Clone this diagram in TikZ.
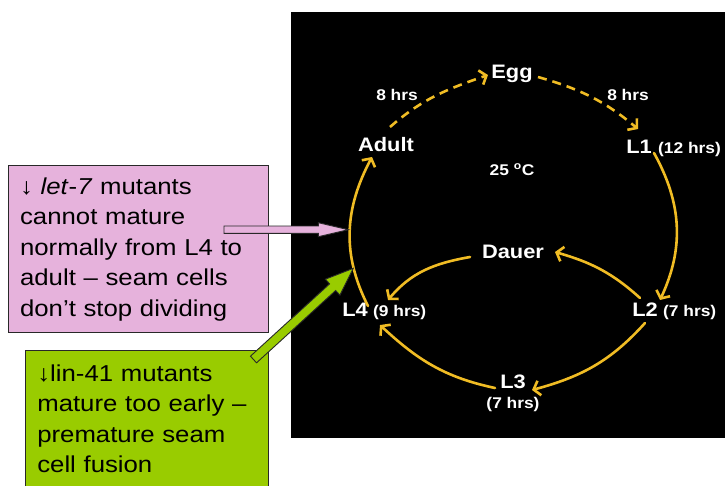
\documentclass[tikz,border=0pt]{standalone}
\usepackage{fontspec}
\setmainfont{Liberation Sans}[FakeStretch=1.12]
\usetikzlibrary{arrows.meta,calc}
\definecolor{cycyellow}{RGB}{240,188,36}
\definecolor{pinkfill}{RGB}{230,178,220}
\definecolor{greenfill}{RGB}{153,204,0}
\definecolor{edgegray}{RGB}{40,40,40}
% block arrow: #1 tail, #2 tip, #3 shaft half width, #4 head half width, #5 head length, #6 fill
\newcommand\calloutarrow[6]{%
  \coordinate (#1-hb) at ($(#2)!#5!(#1)$);
  \filldraw[fill=#6,draw=edgegray,line width=0.9pt,line join=miter]
    ($(#1)!#3!90:(#2)$) -- ($(#1-hb)!#3!90:(#2)$) -- ($(#1-hb)!#4!90:(#2)$) --
    (#2) -- ($(#1-hb)!#4!-90:(#2)$) -- ($(#1-hb)!#3!-90:(#2)$) --
    ($(#1)!#3!-90:(#2)$) -- cycle;
}
\begin{document}
\begin{tikzpicture}[x=1pt,y=1pt,
  stage/.style={text=white,font=\fontsize{19.5}{22}\selectfont\bfseries,inner sep=0pt,anchor=base},
  dur/.style={text=white,font=\fontsize{15.5}{18}\selectfont\bfseries,inner sep=0pt,anchor=base},
  cyc/.style={draw=cycyellow,line width=2.6pt,line cap=round,-{Straight Barb[length=6pt,width=15pt]}},
  dashcyc/.style={cyc,line cap=butt,dash pattern=on 9pt off 6pt},
  notebox/.style={draw=edgegray,line width=1.2pt,anchor=north west,inner ysep=0pt,align=left,
    text=black,font=\fontsize{23}{30.5}\selectfont},
]
\useasboundingbox (0,0) rectangle (725,-485);
\fill[black] (291,-12) rectangle (725,-438);

% stage labels
\node[stage] (egg) at (512,-78) {Egg};
\node[stage] (adult) at (386,-151.5) {Adult};
\node[stage] (l1) at (639,-153) {L1};
\node[dur,anchor=base west] (l1t) at (658,-153) {(12 hrs)};
\node[dur] (eighta) at (397,-100) {8 hrs};
\node[dur] (eightb) at (628,-100) {8 hrs};
\node[dur] (temp) at (512,-175) {25 \textsuperscript{o}C};
\node[stage] (dauer) at (513,-258) {Dauer};
\node[stage] (l4) at (355,-316.5) {L4};
\node[dur,anchor=base west] (l4t) at (373,-316.5) {(9 hrs)};
\node[stage] (l2) at (645,-316.5) {L2};
\node[dur,anchor=base west] (l2t) at (663,-316.5) {(7 hrs)};
\node[stage] (l3) at (513,-388) {L3};
\node[dur] (l3t) at (513,-408) {(7 hrs)};

% life cycle connectors
\draw[dashcyc] ($(adult.base)+(4,24.5)$) to[out=41,in=199] ($(egg.base)+(-24,3)$);
\draw[dashcyc] ($(egg.base)+(26,1)$) to[out=-16,in=140] ($(l1.base)+(-1,24)$);
\draw[cyc] ($(l1.base)+(15,0)$) to[out=-61,in=65] ($(l2.base)+(15,16.5)$);
\draw[cyc] ($(l4.base)+(13,10.5)$) to[out=117,in=242] ($(adult.base)+(-14,-5.5)$);
\draw[cyc] ($(l2.base)+(-5,18.5)$) to[out=138,in=-16] ($(dauer.base)+(42,6)$);
\draw[cyc] ($(dauer.base)+(-43,1)$) to[out=190,in=50] ($(l4.base)+(33,16.5)$);
\draw[cyc] ($(l2.base)+(0,-6.5)$) to[out=228,in=15] ($(l3.base)+(19,-2)$);
\draw[cyc] ($(l3.base)+(-18,0)$) to[out=168,in=-43] ($(l4.base)+(25,-8.5)$);

% note boxes
\node[notebox,fill=pinkfill,minimum width=260pt,minimum height=167pt,inner xsep=11.5pt,text width=237pt]
  (letbox) at (8,-165)
  {↓ \textit{let}-\textit{7} mutants\\cannot mature\\normally from L4 to\\adult – seam cells\\don’t stop dividing};
\node[notebox,fill=greenfill,minimum width=243pt,minimum height=136pt,inner xsep=11.7pt,text width=219.6pt]
  (linbox) at (25,-350)
  {↓lin-41 mutants\\mature too early –\\premature seam\\cell fusion};

% callout arrows
\coordinate (pinktail) at (224,-229.7);
\coordinate (pinktip) at (348.3,-229.7);
\calloutarrow{pinktail}{pinktip}{3.7pt}{7pt}{30pt}{pinkfill}
\coordinate (greentail) at (253.5,-359.5);
\coordinate (greentip) at (353.3,-268.3);
\calloutarrow{greentail}{greentip}{4.5pt}{10.8pt}{28pt}{greenfill}
\end{tikzpicture}
\end{document}
